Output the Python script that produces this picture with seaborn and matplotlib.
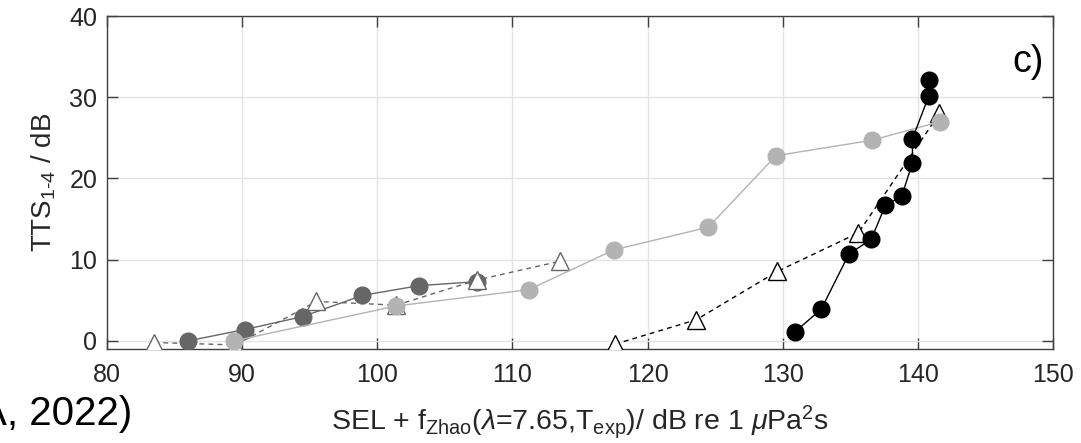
import matplotlib
matplotlib.use("Agg")
import matplotlib.pyplot as plt
import seaborn as sns
import pandas as pd

# --- data -------------------------------------------------------------
# dark-grey filled circles, solid line
sel_dark = [86.0, 90.2, 94.5, 98.9, 103.1, 107.4]
tts_dark = [0.0, 1.4, 3.0, 5.6, 6.8, 7.3]

# grey open triangles, dashed line
sel_tri_grey = [83.5, 89.5, 95.5, 101.4, 107.4, 113.5]
tts_tri_grey = [-0.2, -0.5, 4.85, 4.4, 7.5, 9.8]

# black open triangles, dashed line
sel_tri_black = [117.6, 123.6, 129.6, 135.6, 141.6]
tts_tri_black = [-0.4, 2.6, 8.55, 13.3, 28.0]

# light-grey filled circles, solid line
sel_light = [89.4, 101.4, 111.2, 117.5, 124.5, 129.5, 136.6, 141.65]
tts_light = [0.0, 4.3, 6.3, 11.2, 14.0, 22.8, 24.7, 27.0]

# black filled circles, solid line
sel_black = [130.9, 132.85, 134.9, 136.55, 137.6, 138.8, 139.6, 139.6, 140.8, 140.8]
tts_black = [1.1, 3.9, 10.7, 12.5, 16.7, 17.8, 21.9, 24.9, 30.1, 32.1]

x_ticks = [80, 90, 100, 110, 120, 130, 140, 150]
y_ticks = [0, 10, 20, 30, 40]

# --- style ------------------------------------------------------------
sns.set_theme(style="white")
plt.rcParams["font.family"] = ["Liberation Sans", "DejaVu Sans"]
plt.rcParams["mathtext.fontset"] = "custom"
plt.rcParams["mathtext.rm"] = "Liberation Sans"
plt.rcParams["mathtext.it"] = "Liberation Sans:italic"
plt.rcParams["mathtext.bf"] = "Liberation Sans:bold"

DARK = "#666666"
LIGHT = "#b3b3b3"
BLACK = "#000000"
AXC = "#404040"

fig = plt.figure(figsize=(10.81, 4.43), dpi=100)
ax = fig.add_axes([107 / 1081, 1 - 349 / 443, (1053 - 107) / 1081, (349 - 16) / 443])


def series(x, y, color, marker, ls, face, ms, z):
    df = pd.DataFrame({"x": x, "y": y})
    sns.lineplot(data=df, x="x", y="y", ax=ax, sort=False, estimator=None,
                 color=color, linestyle=ls, linewidth=1.0,
                 marker=marker, markersize=ms, markerfacecolor=face,
                 markeredgecolor=color, markeredgewidth=1.0, zorder=z)


series(sel_dark, tts_dark, DARK, "o", "-", DARK, 12, 3)
series(sel_tri_grey, tts_tri_grey, DARK, "^", (0, (3.5, 3)), "white", 12.5, 4)
series(sel_tri_black, tts_tri_black, BLACK, "^", (0, (3.5, 3)), "white", 12.5, 5)
series(sel_light, tts_light, LIGHT, "o", "-", LIGHT, 12, 6)
series(sel_black, tts_black, BLACK, "o", "-", BLACK, 12, 7)

ax.set_xlim(80, 150)
ax.set_ylim(-1, 40)
ax.set_xticks(x_ticks)
ax.set_yticks(y_ticks)
ax.set_xticklabels([str(t) for t in x_ticks])
ax.set_yticklabels([str(t) for t in y_ticks])

ax.grid(True, color="#e3e3e3", linewidth=1.0)
ax.set_axisbelow(True)
for s in ax.spines.values():
    s.set_visible(True)
    s.set_color(AXC)
    s.set_linewidth(1.0)

ax.tick_params(axis="both", which="both", direction="in", length=8, width=1.0,
               color=AXC, labelcolor="#262626", labelsize=18,
               top=True, right=True, bottom=True, left=True)
ax.tick_params(axis="x", pad=10)
ax.tick_params(axis="y", pad=7)

ax.set_xlabel(r"SEL + f$_{\mathrm{Zhao}}$($\lambda$=7.65,T$_{\mathrm{exp}}$)/ dB re 1 $\mu$Pa$^{2}$s",
              fontsize=20.5, color="#262626", labelpad=12)
ax.set_ylabel(r"TTS$_{\text{1-4}}$ / dB", fontsize=20, color="#262626", labelpad=8)

ax.text(0.99, 0.832, "c)", transform=ax.transAxes, ha="right", va="baseline",
        fontsize=27, color="#000000")

# tail of a citation that runs in from the left edge of the page
fig.text(132 / 1081, 1 - 425 / 443, "A, 2022)", ha="right", va="baseline",
         fontsize=29, color="#000000")

fig.savefig("out.png", dpi=100)
